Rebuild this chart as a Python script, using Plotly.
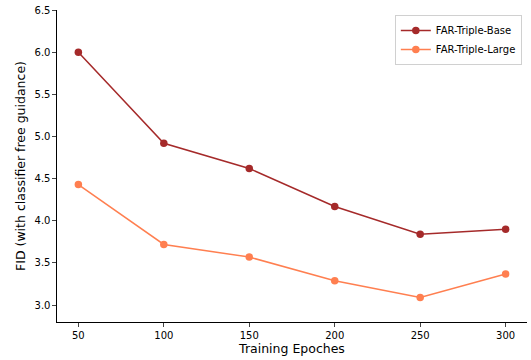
import plotly.graph_objects as go

epochs = [50, 100, 150, 200, 250, 300]
fid_base = [6.00, 4.92, 4.62, 4.17, 3.84, 3.90]
fid_large = [4.43, 3.72, 3.57, 3.29, 3.09, 3.37]
y_ticks = [3.0, 3.5, 4.0, 4.5, 5.0, 5.5, 6.0, 6.5]

fig = go.Figure()
fig.add_trace(go.Scatter(x=epochs, y=fid_base, mode="lines+markers", name="FAR-Triple-Base",
                         line=dict(color="#a52a2a", width=1.5), marker=dict(size=7.5, color="#a52a2a")))
fig.add_trace(go.Scatter(x=epochs, y=fid_large, mode="lines+markers", name="FAR-Triple-Large",
                         line=dict(color="#ff7f50", width=1.5), marker=dict(size=7.5, color="#ff7f50")))

fig.update_layout(
    width=531, height=360,
    margin=dict(l=57, r=4, t=8, b=38),
    plot_bgcolor="white", paper_bgcolor="white",
    font=dict(family="DejaVu Sans", size=10, color="black"),
    legend=dict(x=0.989, y=0.984, xanchor="right", yanchor="top",
                bgcolor="rgba(255,255,255,0.8)", bordercolor="#d0d0d0", borderwidth=1,
                font=dict(family="DejaVu Sans", size=10), tracegroupgap=0, itemwidth=30),
    xaxis=dict(range=[37.5, 312.5], tickvals=epochs, ticks="outside", ticklen=3.5, tickwidth=0.8,
               showline=True, linecolor="black", linewidth=1.1, showgrid=False, zeroline=False,
               title=dict(text="Training Epoches", font=dict(size=12.5, family="DejaVu Sans"), standoff=4),
               tickfont=dict(size=10)),
    yaxis=dict(range=[2.8, 6.5], tickvals=y_ticks, ticktext=[f"{v:.1f}" for v in y_ticks],
               ticks="outside", ticklen=3.5, tickwidth=0.8,
               showline=True, linecolor="black", linewidth=1.1, showgrid=False, zeroline=False,
               title=dict(text="FID (with classifier free guidance)", font=dict(size=12.5, family="DejaVu Sans"), standoff=6),
               tickfont=dict(size=10)),
)
fig.write_html("out.html", config={"displayModeBar": False},
               post_script="document.body.style.margin='0';document.body.style.overflow='hidden';")
